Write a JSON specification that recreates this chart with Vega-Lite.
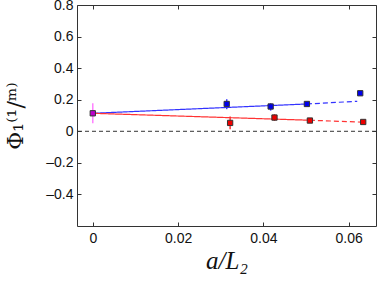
{
  "$schema": "https://vega.github.io/schema/vega-lite/v6.json",
  "autosize": "none",
  "width": 299,
  "height": 221,
  "padding": {"left": 77, "top": 5, "right": 6, "bottom": 61},
  "background": "white",
  "config": {
    "view": {"stroke": "#333333", "strokeWidth": 1},
    "axis": {"grid": false, "domain": false, "tickColor": "#333333", "tickSize": -4, "labelFont": "Liberation Sans", "labelFontSize": 14, "labelColor": "#111111", "titleFont": "DejaVu Serif", "titleFontWeight": "normal", "titleColor": "#111111", "format": "~g"}
  },
  "datasets": {
    "pts": [
      {"x": 0, "y": 0.114, "lo": 0.051, "hi": 0.178, "s": "m"},
      {"x": 0.0314, "y": 0.173, "lo": 0.14, "hi": 0.203, "s": "b"},
      {"x": 0.0417, "y": 0.157, "lo": 0.131, "hi": 0.178, "s": "b"},
      {"x": 0.0502, "y": 0.173, "lo": 0.165, "hi": 0.181, "s": "b"},
      {"x": 0.0627, "y": 0.241, "lo": 0.236, "hi": 0.246, "s": "b"},
      {"x": 0.0322, "y": 0.053, "lo": 0.013, "hi": 0.093, "s": "r"},
      {"x": 0.0426, "y": 0.087, "lo": 0.066, "hi": 0.108, "s": "r"},
      {"x": 0.0509, "y": 0.068, "lo": 0.059, "hi": 0.077, "s": "r"},
      {"x": 0.0634, "y": 0.059, "lo": 0.054, "hi": 0.064, "s": "r"}
    ],
    "fits": [
      {"x": 0, "y": 0.114, "seg": "bs"},
      {"x": 0.0502, "y": 0.173, "seg": "bs"},
      {"x": 0.0502, "y": 0.173, "seg": "bd"},
      {"x": 0.062, "y": 0.19, "seg": "bd"},
      {"x": 0, "y": 0.114, "seg": "rs"},
      {"x": 0.0509, "y": 0.070, "seg": "rs"},
      {"x": 0.0509, "y": 0.070, "seg": "rd"},
      {"x": 0.063, "y": 0.058, "seg": "rd"}
    ],
    "zero": [{"y": 0}]
  },
  "layer": [
    {
      "data": {"name": "zero"},
      "mark": {"type": "rule", "stroke": "#333333", "strokeDash": [4, 3], "strokeWidth": 1},
      "encoding": {
        "y": {"field": "y", "type": "quantitative", "scale": {"domain": [-0.6, 0.8], "nice": false, "zero": false},
          "axis": {"orient": "left", "values": [-0.4, -0.2, 0, 0.2, 0.4, 0.6, 0.8], "labelPadding": 8, "title": "Φ₁⁽¹/ᵐ⁾", "titleFontSize": 22, "titlePadding": 18, "labelExpr": "replace(datum.label, '−', '–')"}}
      }
    },
    {
      "data": {"name": "fits"},
      "mark": {"type": "line", "strokeWidth": 1.2},
      "encoding": {
        "x": {"field": "x", "type": "quantitative", "scale": {"domain": [-0.0037, 0.0664], "nice": false, "zero": false},
          "axis": {"orient": "bottom", "values": [0, 0.02, 0.04, 0.06], "labelPadding": 9, "title": "a/L₂", "titleFont": "Liberation Serif", "titleFontSize": 25, "titleFontStyle": "italic", "titlePadding": 3}},
        "y": {"field": "y", "type": "quantitative", "axis": {"orient": "right", "values": [-0.4, -0.2, 0, 0.2, 0.4, 0.6, 0.8], "labels": false, "title": null}},
        "detail": {"field": "seg"},
        "color": {"field": "seg", "type": "nominal", "scale": {"domain": ["bs", "bd", "rs", "rd"], "range": ["#3333ff", "#3333ff", "#ff3333", "#ff3333"]}, "legend": null},
        "strokeDash": {"field": "seg", "type": "nominal", "scale": {"domain": ["bs", "bd", "rs", "rd"], "range": [[1, 0], [5, 3], [1, 0], [5, 3]]}, "legend": null}
      }
    },
    {
      "data": {"name": "pts"},
      "mark": {"type": "rule", "strokeWidth": 1.5},
      "encoding": {
        "x": {"field": "x", "type": "quantitative", "axis": {"orient": "top", "values": [0, 0.02, 0.04, 0.06], "labels": false, "title": null}},
        "y": {"field": "lo", "type": "quantitative", "axis": null},
        "y2": {"field": "hi"},
        "stroke": {"field": "s", "type": "nominal", "scale": {"domain": ["m", "b", "r"], "range": ["#ff80ff", "#3333ff", "#ff3333"]}, "legend": null}
      }
    },
    {
      "data": {"name": "pts"},
      "mark": {"type": "square", "size": 28, "opacity": 1, "stroke": "#333333", "strokeWidth": 1},
      "encoding": {
        "x": {"field": "x", "type": "quantitative", "axis": null},
        "y": {"field": "y", "type": "quantitative", "axis": null},
        "fill": {"field": "s", "type": "nominal", "scale": {"domain": ["m", "b", "r"], "range": ["#bb00cc", "#0000ee", "#ee0000"]}, "legend": null}
      }
    }
  ],
  "resolve": {"axis": {"x": "independent", "y": "independent"}, "scale": {"color": "independent", "stroke": "independent", "fill": "independent"}}
}
